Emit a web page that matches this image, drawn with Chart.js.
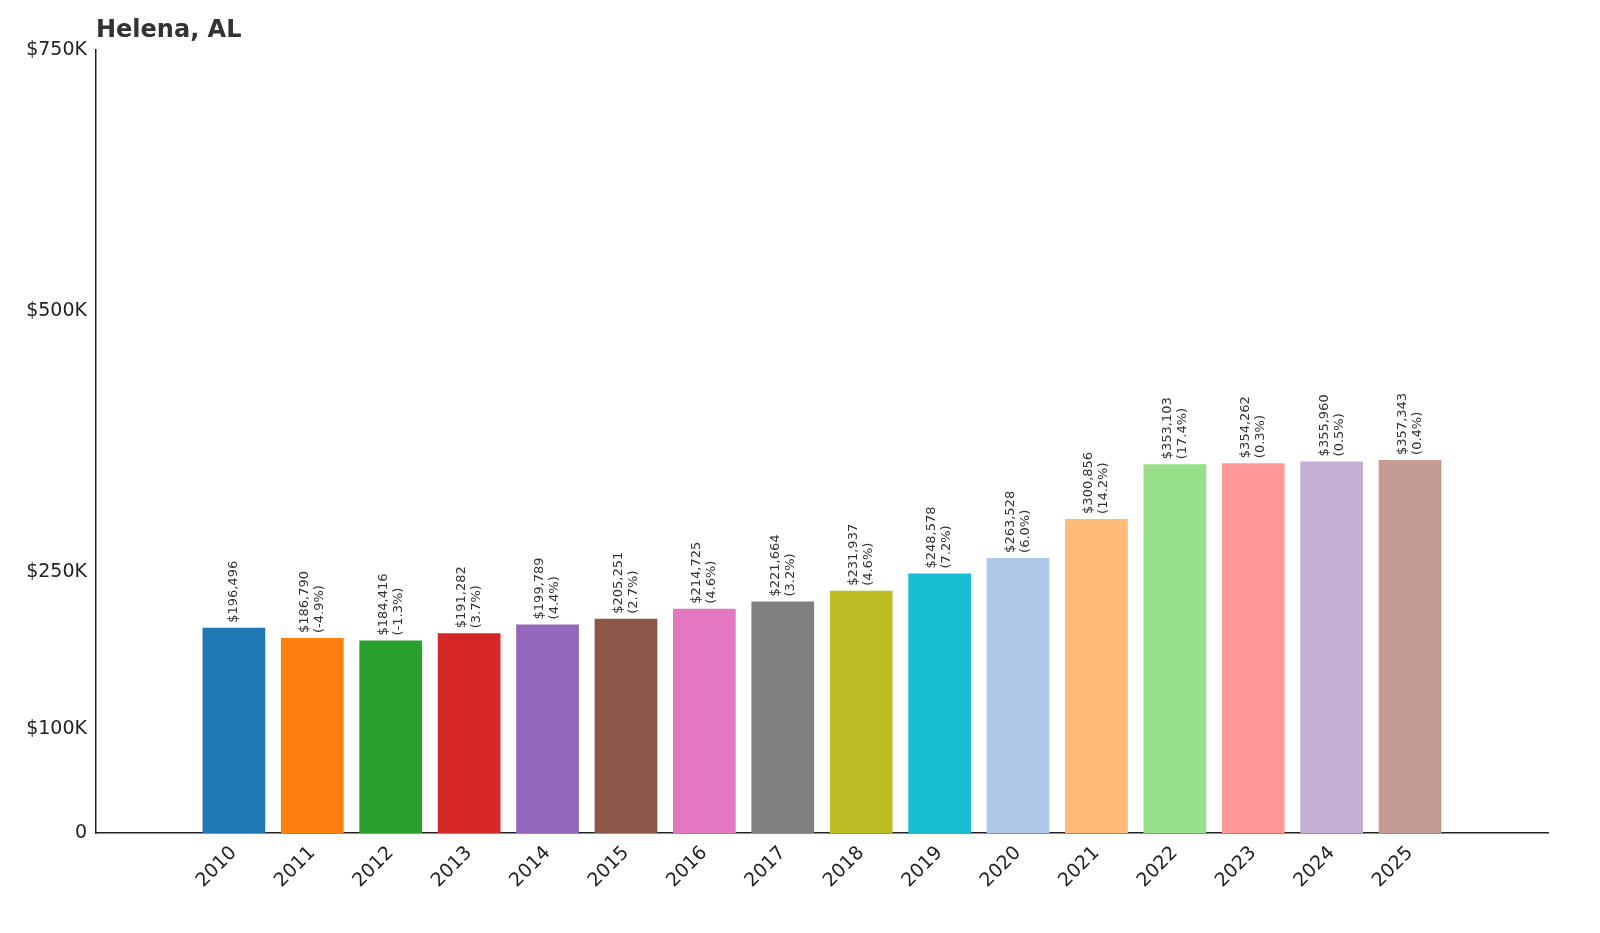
<!DOCTYPE html>
<html><head><meta charset="utf-8">
<script src="https://cdn.jsdelivr.net/npm/chart.js@4"></script>
<style>html,body{margin:0;background:#fff}</style>
</head><body><canvas id="c" width="1600" height="933"></canvas>
<script>
const years=["2010","2011","2012","2013","2014","2015","2016","2017","2018","2019","2020","2021","2022","2023","2024","2025"];
const values=[196496,186790,184416,191282,199789,205251,214725,221664,231937,248578,263528,300856,353103,354262,355960,357343];
const changes=["","(-4.9%)","(-1.3%)","(3.7%)","(4.4%)","(2.7%)","(4.6%)","(3.2%)","(4.6%)","(7.2%)","(6.0%)","(14.2%)","(17.4%)","(0.3%)","(0.5%)","(0.4%)"];
const yTicks=[0,100000,250000,500000,750000];
const yTickLabels=["0","$100K","$250K","$500K","$750K"];
const colors=["#1f77b4","#ff7f0e","#2ca02c","#d62728","#9467bd","#8c564b","#e377c2","#7f7f7f","#bcbd22","#17becf","#aec7e8","#ffbb78","#98df8a","#ff9896","#c5b0d5","#c49c94"];
const labelPlugin={id:"lbl",afterDatasetsDraw(ch){const c=ch.ctx,m=ch.getDatasetMeta(0);c.save();c.fillStyle="#333";c.font="13px 'DejaVu Sans'";c.textAlign="left";
m.data.forEach((b,i)=>{c.save();c.translate(b.x,b.y-5);c.rotate(-Math.PI/2);
const l1="$"+values[i].toLocaleString("en-US");
if(changes[i]){c.textBaseline="bottom";c.fillText(l1,0,-1);c.textBaseline="top";c.fillText(changes[i],0,1);}else{c.textBaseline="middle";c.fillText(l1,0,0);}
c.restore();});c.restore();
c.save();c.fillStyle="#333";c.font="bold 24px 'DejaVu Sans'";c.textBaseline="middle";c.fillText("Helena, AL",96,31);c.restore();}};
new Chart(document.getElementById("c"),{type:"bar",
data:{datasets:[{data:values.map((v,i)=>({x:i,y:v})),backgroundColor:colors,categoryPercentage:0.8,barPercentage:1}]},
options:{responsive:false,animation:false,devicePixelRatio:1,
layout:{padding:{top:50,right:52,left:0,bottom:0}},
plugins:{legend:{display:false},tooltip:{enabled:false}},
scales:{
x:{type:"linear",min:-1.18,max:16.18,grid:{display:false,drawTicks:true,tickLength:6,color:"#222"},border:{color:"#222",width:1.5},
afterBuildTicks(a){a.ticks=years.map((_,i)=>({value:i}));},
afterFit(a){a.height=100;},
ticks:{autoSkip:false,maxRotation:45,minRotation:45,color:"#222",font:{size:19,family:"DejaVu Sans"},callback:(v)=>years[v]}},
y:{min:0,max:750000,grid:{display:false,drawTicks:true,tickLength:6,color:"#222"},border:{color:"#222",width:1.5},
afterBuildTicks(a){a.ticks=yTicks.map(v=>({value:v}));},
afterFit(a){a.width=96;},
ticks:{color:"#222",font:{size:19,family:"DejaVu Sans"},callback:(v)=>yTickLabels[yTicks.indexOf(v)]}}}},
plugins:[labelPlugin]});
</script>
</body></html>
